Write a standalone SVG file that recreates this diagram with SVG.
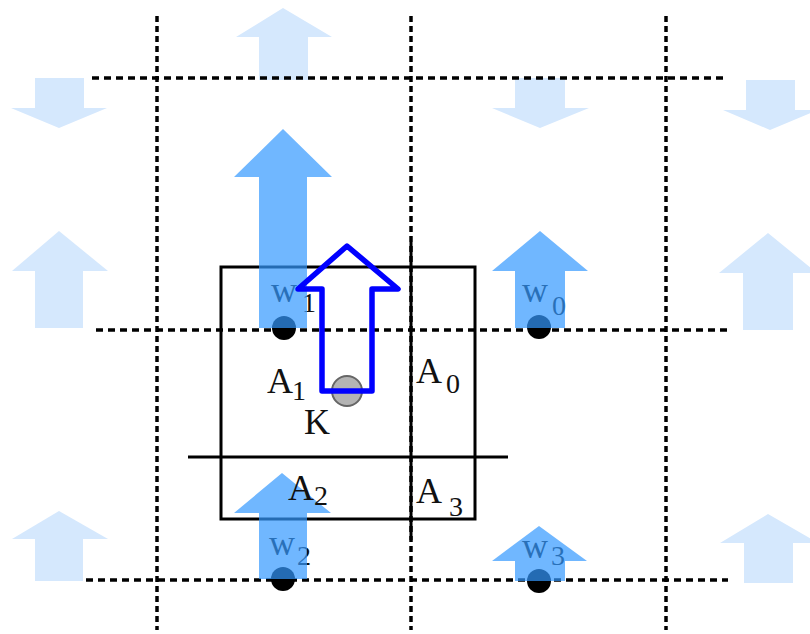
<svg xmlns="http://www.w3.org/2000/svg" width="810" height="634" viewBox="0 0 810 634">
<style>
.lt{fill:#d5e8fd}
.dk{fill:#3399ff;fill-opacity:0.7}
.grid{stroke:#000;stroke-width:3.5;fill:none}
.gh{stroke-dasharray:7 5}
.gv{stroke-dasharray:6 4}
.solid{stroke:#000;stroke-width:3;fill:none}
.dot{fill:#000}
.t{font-family:"Liberation Serif","Times New Roman",serif;font-size:36px;fill:#111}
.s{font-family:"Liberation Serif","Times New Roman",serif;font-size:28px;fill:#111}
</style>
<rect width="810" height="634" fill="#fff"/>
<g id="light-arrows">
<polygon class="lt" points="283,8 332,37 308,37 308,80 259,80 259,37 236,37"/>
<polygon class="lt" points="35,78 84,78 84,108 107,108 59,128 11,108 35,108"/>
<polygon class="lt" points="515,78 565,78 565,108 589,108 540,128 492,108 515,108"/>
<polygon class="lt" points="746,80 795,80 795,110 818,110 770,130 723,110 746,110"/>
<polygon class="lt" points="59,231 108,271 83,271 83,328 35,328 35,271 12,271"/>
<polygon class="lt" points="768,233 817,273 793,273 793,330 743,330 743,273 719,273"/>
<polygon class="lt" points="59,511 108,539 83,539 83,581 35,581 35,539 12,539"/>
<polygon class="lt" points="768,514 818,543 793,543 793,583 744,583 744,543 720,543"/>
</g>
<g id="connectors">
<line class="grid gv" x1="157" y1="16" x2="157" y2="630"/>
<line class="grid gv" x1="411" y1="16" x2="411" y2="630"/>
<line class="grid gv" x1="666" y1="16" x2="666" y2="630"/>
<line class="grid gh" x1="92" y1="78" x2="728" y2="78"/>
<line class="grid gh" x1="96" y1="330" x2="730" y2="330"/>
<line class="grid gh" x1="86" y1="580" x2="728" y2="580"/>
</g>
<g id="cell">
<rect class="solid" x="221" y="267" width="254" height="252"/>
<line class="solid" x1="411" y1="242" x2="411" y2="540"/>
<line class="solid" x1="188" y1="457" x2="508" y2="457"/>
</g>
<g id="w-labels">
<text class="t" x="271" y="302">w</text><text class="s" x="302" y="312">1</text>
<text class="t" x="522" y="302">w</text><text class="s" x="552" y="315">0</text>
<text class="t" x="269" y="555">w</text><text class="s" x="297" y="565">2</text>
<text class="t" x="522" y="558">w</text><text class="s" x="551" y="565">3</text>
</g>
<g id="dots">
<circle class="dot" cx="284" cy="328" r="12"/>
<circle class="dot" cx="539" cy="327" r="12"/>
<circle class="dot" cx="283" cy="579" r="12"/>
<circle class="dot" cx="539" cy="581" r="12"/>
</g>
<g id="dark-arrows">
<polygon id="w1-arrow" class="dk" points="283,129 332,177 307,177 307,328 259,328 259,177 234,177"/>
<polygon id="w0-arrow" class="dk" points="540,231 588,271 565,271 565,328 515,328 515,271 492,271"/>
<polygon id="w2-arrow" class="dk" points="282,473 331,513 307,513 307,579 259,579 259,513 234,513"/>
<polygon id="w3-arrow" class="dk" points="539,526 587,561 565,561 565,581 515,581 515,561 492,561"/>
</g>
<g id="area-labels">
<text class="t" x="267" y="393">A</text><text class="s" x="292" y="400">1</text>
<text class="t" x="416" y="383">A</text><text class="s" x="446" y="393">0</text>
<text class="t" x="288" y="500">A</text><text class="s" x="314" y="505">2</text>
<text class="t" x="416" y="503">A</text><text class="s" x="449" y="516">3</text>
<text class="t" x="304" y="434">K</text>
</g>
<g id="K">
<circle cx="347" cy="391" r="15" fill="#b4b4b4" stroke="#666" stroke-width="2"/>
</g>
<g id="move-arrow">
<polygon points="347,246 398,289 372,289 372,391 322,391 322,289 298,289" fill="none" stroke="#0000ff" stroke-width="5.5" stroke-linejoin="round"/>
</g>
</svg>
